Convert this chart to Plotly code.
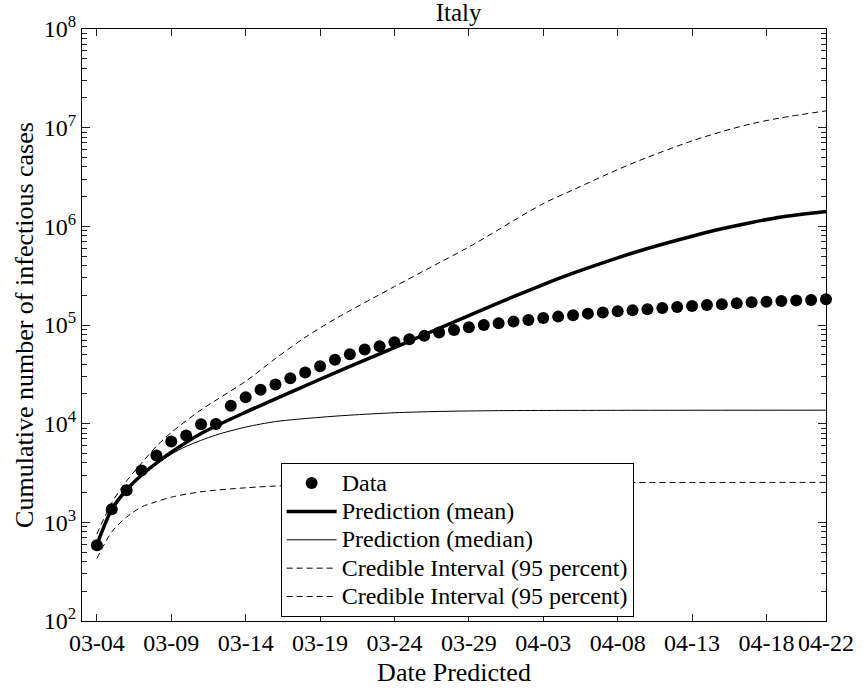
import plotly.graph_objects as go

# Observed cumulative cases, one per day from 03-04 to 04-22
data_dates = [
    "2020-03-04", "2020-03-05", "2020-03-06", "2020-03-07", "2020-03-08", "2020-03-09",
    "2020-03-10", "2020-03-11", "2020-03-12", "2020-03-13", "2020-03-14", "2020-03-15",
    "2020-03-16", "2020-03-17", "2020-03-18", "2020-03-19", "2020-03-20", "2020-03-21",
    "2020-03-22", "2020-03-23", "2020-03-24", "2020-03-25", "2020-03-26", "2020-03-27",
    "2020-03-28", "2020-03-29", "2020-03-30", "2020-03-31", "2020-04-01", "2020-04-02",
    "2020-04-03", "2020-04-04", "2020-04-05", "2020-04-06", "2020-04-07", "2020-04-08",
    "2020-04-09", "2020-04-10", "2020-04-11", "2020-04-12", "2020-04-13", "2020-04-14",
    "2020-04-15", "2020-04-16", "2020-04-17", "2020-04-18", "2020-04-19", "2020-04-20",
    "2020-04-21", "2020-04-22",
]
data_cases = [
    585, 1355, 2110, 3360, 4770, 6610,
    7600, 9890, 9900, 15170, 18530, 22030,
    24930, 28900, 32960, 38200, 44360, 50600,
    56400, 60800, 66800, 71600, 77600, 83800,
    89200, 94900, 100200, 104000, 108200, 112600,
    118000, 121600, 125400, 130400, 133600, 137700,
    141000, 144300, 148900, 152500, 156100, 159700,
    162100, 166000, 169900, 172500, 175300, 176700,
    179400, 182000,
]

# Posterior mean prediction
mean_dates = [
    "2020-03-04", "2020-03-05", "2020-03-06", "2020-03-07", "2020-03-08", "2020-03-09",
    "2020-03-11", "2020-03-14", "2020-03-16", "2020-03-19", "2020-03-21", "2020-03-24",
    "2020-03-27", "2020-03-29", "2020-03-31", "2020-04-03", "2020-04-05", "2020-04-08",
    "2020-04-10", "2020-04-13", "2020-04-15", "2020-04-17", "2020-04-19", "2020-04-22",
]
mean_cases = [
    590, 1350, 2140, 3020, 3980, 5130,
    7940, 13100, 17800, 28200, 38000, 58900,
    92300, 124500, 167900, 257000, 335000, 479000,
    596000, 794000, 944000, 1096000, 1245000, 1416000,
]

# Posterior median prediction
median_dates = [
    "2020-03-04", "2020-03-05", "2020-03-06", "2020-03-07", "2020-03-08", "2020-03-09",
    "2020-03-10", "2020-03-12", "2020-03-14", "2020-03-16", "2020-03-19", "2020-03-21",
    "2020-03-24", "2020-03-27", "2020-03-31", "2020-04-08", "2020-04-22",
]
median_cases = [
    590, 1350, 2140, 3000, 3890, 4900,
    5890, 7670, 9230, 10500, 11600, 12200,
    12900, 13300, 13550, 13650, 13700,
]

# Upper bound of the 95 percent credible interval
upper_dates = [
    "2020-03-04", "2020-03-05", "2020-03-06", "2020-03-07", "2020-03-08", "2020-03-09",
    "2020-03-11", "2020-03-14", "2020-03-16", "2020-03-18", "2020-03-20", "2020-03-24",
    "2020-03-27", "2020-03-29", "2020-04-03", "2020-04-05", "2020-04-08", "2020-04-10",
    "2020-04-13", "2020-04-15", "2020-04-17", "2020-04-19", "2020-04-22",
]
upper_cases = [
    760, 1580, 2630, 3980, 5900, 8130,
    13800, 26900, 45700, 75000, 115000, 245000,
    427000, 617000, 1700000, 2340000, 3760000, 5000000,
    7350000, 9120000, 10960000, 12600000, 14800000,
]

# Lower bound of the 95 percent credible interval
lower_dates = [
    "2020-03-04", "2020-03-05", "2020-03-06", "2020-03-07", "2020-03-08", "2020-03-09",
    "2020-03-11", "2020-03-14", "2020-03-17", "2020-03-22", "2020-04-01", "2020-04-22",
]
lower_cases = [
    430, 800, 1130, 1430, 1620, 1800,
    2040, 2240, 2370, 2480, 2520, 2540,
]

tick_dates = [
    "2020-03-04", "2020-03-09", "2020-03-14", "2020-03-19", "2020-03-24", "2020-03-29",
    "2020-04-03", "2020-04-08", "2020-04-13", "2020-04-18", "2020-04-22",
]
tick_labels = ["03-04", "03-09", "03-14", "03-19", "03-24", "03-29",
               "04-03", "04-08", "04-13", "04-18", "04-22"]

y_tick_vals = [1e2, 1e3, 1e4, 1e5, 1e6, 1e7, 1e8]
y_tick_text = ["10<sup>%d</sup>" % p for p in range(2, 9)]
# minor decade ticks 2..9 x 10^k
y_minor_vals = [m * 10 ** k for k in range(2, 8) for m in range(2, 10)]

FONT = "Liberation Serif, Times New Roman, serif"
DASH = "6px,4px"


def legend_name(text):
    # larger glyphs than the legend font so rows stay compact
    return '<span style="font-size:24px">%s</span>' % text


fig = go.Figure()
fig.add_trace(go.Scatter(
    x=data_dates, y=data_cases, mode="markers", name=legend_name("Data"),
    marker=dict(color="black", size=12, line=dict(width=0)),
    cliponaxis=False,
))
fig.add_trace(go.Scatter(
    x=mean_dates, y=mean_cases, mode="lines", name=legend_name("Prediction (mean)"),
    line=dict(color="black", width=3.5, shape="spline", smoothing=0.8),
))
fig.add_trace(go.Scatter(
    x=median_dates, y=median_cases, mode="lines", name=legend_name("Prediction (median)"),
    line=dict(color="black", width=1, shape="spline", smoothing=0.8),
))
fig.add_trace(go.Scatter(
    x=upper_dates, y=upper_cases, mode="lines",
    name=legend_name("Credible Interval (95 percent)"),
    line=dict(color="black", width=1, dash=DASH, shape="spline", smoothing=0.8),
))
fig.add_trace(go.Scatter(
    x=lower_dates, y=lower_cases, mode="lines",
    name=legend_name("Credible Interval (95 percent)"),
    line=dict(color="black", width=1, dash=DASH, shape="spline", smoothing=0.8),
))

fig.update_layout(
    width=866, height=694,
    margin=dict(l=82, r=31, t=28, b=73),
    paper_bgcolor="white", plot_bgcolor="white",
    font=dict(family=FONT, size=24, color="black"),
    title=dict(text="Italy", x=0.5295, xanchor="center", yref="container",
               y=1 - 12 / 694, yanchor="middle",
               font=dict(family=FONT, size=25, color="black")),
    showlegend=True,
    legend=dict(
        x=0.267, y=0.267, xanchor="left", yanchor="top",
        bgcolor="white", bordercolor="black", borderwidth=1,
        font=dict(family=FONT, size=19.5, color="black"),
        itemwidth=50, tracegroupgap=0,
    ),
    xaxis=dict(
        type="date", range=["2020-03-03", "2020-04-22"],
        tickvals=tick_dates, ticktext=tick_labels,
        ticks="inside", ticklen=7, tickcolor="#202020", tickwidth=1.3,
        showline=True, linecolor="black", linewidth=1, mirror="ticks",
        showgrid=False, zeroline=False,
        title=dict(text="Date Predicted", standoff=8, font=dict(size=26)),
        tickfont=dict(size=24),
    ),
    yaxis=dict(
        type="log", range=[2, 8],
        tickvals=y_tick_vals, ticktext=y_tick_text,
        ticks="inside", ticklen=8, tickcolor="#202020", tickwidth=1.3,
        minor=dict(tickmode="array", tickvals=y_minor_vals, ticks="inside",
                   ticklen=5, tickcolor="#202020", tickwidth=1.3, showgrid=False),
        showline=True, linecolor="black", linewidth=1, mirror="ticks",
        showgrid=False, zeroline=False,
        title=dict(text="Cumulative number of infectious cases", standoff=2, font=dict(size=26)),
        tickfont=dict(size=24),
    ),
)

fig.write_html("out.html")
